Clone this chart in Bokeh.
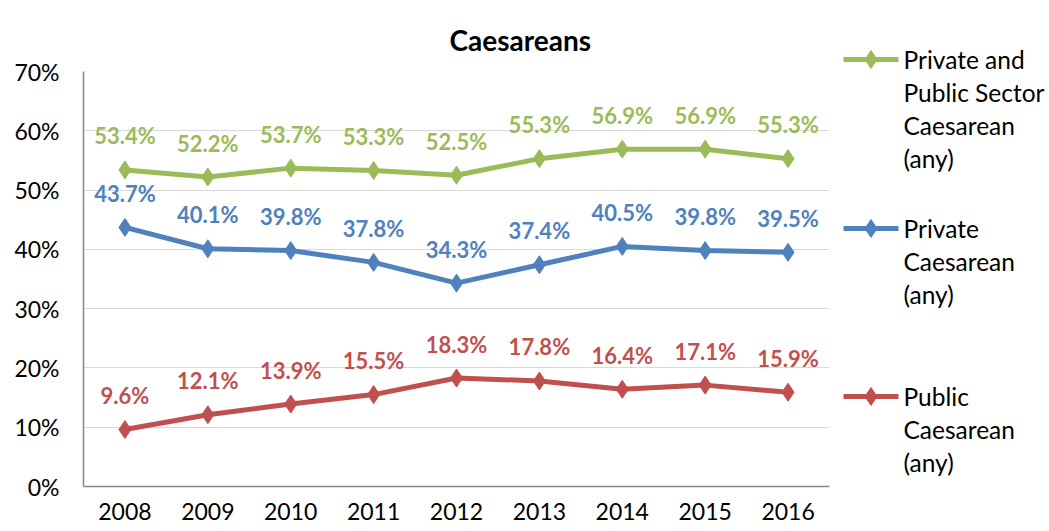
from bokeh.plotting import figure
from bokeh.models import Range1d, FixedTicker, NumeralTickFormatter
from bokeh.layouts import row
from bokeh.embed import file_html
from bokeh.resources import INLINE
from bokeh.core.properties import value

years = [2008, 2009, 2010, 2011, 2012, 2013, 2014, 2015, 2016]
both_sectors = [0.534, 0.522, 0.537, 0.533, 0.525, 0.553, 0.569, 0.569, 0.553]
private = [0.437, 0.401, 0.398, 0.378, 0.343, 0.374, 0.405, 0.398, 0.395]
public = [0.096, 0.121, 0.139, 0.155, 0.183, 0.178, 0.164, 0.171, 0.159]
series_names = ["Private and\nPublic Sector\nCaesarean\n(any)",
                "Private\nCaesarean\n(any)",
                "Public\nCaesarean\n(any)"]
y_ticks = [0, 0.1, 0.2, 0.3, 0.4, 0.5, 0.6, 0.7]
title_text = "Caesareans"

colors = ["#9BBB59", "#4F81BD", "#C0504D"]
FONT = "Lato"
H = 531

p = figure(width=838, height=H, output_backend="svg", toolbar_location=None,
           x_range=Range1d(2007.5, 2016.5), y_range=Range1d(0, 0.7),
           min_border_left=83, min_border_right=9, min_border_top=71,
           min_border_bottom=45, title=title_text)
p.title.align = "left"
p.title.offset = 366
p.title.text_font = FONT
p.title.text_font_size = "28px"
p.title.text_font_style = "bold"
p.title.text_color = "#000000"
try:
    p.title.standoff = 30
except Exception:
    pass
p.outline_line_color = None
p.background_fill_color = "white"

p.xgrid.grid_line_color = None
p.ygrid.grid_line_color = "#D9D9D9"
p.ygrid.grid_line_width = 1
p.ygrid.ticker = FixedTicker(ticks=y_ticks)

for ax in (p.xaxis, p.yaxis):
    ax.axis_line_color = "#868686"
    ax.axis_line_width = 1.5
    ax.major_tick_line_color = None
    ax.minor_tick_line_color = None
    ax.major_tick_in = 0
    ax.major_tick_out = 0
    ax.major_label_text_font = FONT
    ax.major_label_text_color = "#000000"

p.yaxis.ticker = FixedTicker(ticks=y_ticks)
p.yaxis.formatter = NumeralTickFormatter(format="0%")
p.yaxis.major_label_standoff = 24
p.yaxis.major_label_text_font_size = "23px"
p.xaxis.ticker = FixedTicker(ticks=years)
p.xaxis.major_label_standoff = 16
p.xaxis.major_label_text_font_size = "23px"

for vals, c in zip([both_sectors, private, public], colors):
    p.line(years, vals, line_color=c, line_width=5)
    p.scatter(years, vals, marker="diamond", size=18, fill_color=c, line_color=c)
    p.text(years, vals, text=[f"{v*100:.1f}%" for v in vals], text_color=c,
           text_font=value(FONT), text_font_size="22px", text_font_style="bold",
           text_align="center", text_baseline="middle", y_offset=-34)

# legend panel (coordinates equal page pixels)
LX0 = 838
lg = figure(width=1049 - LX0, height=H, output_backend="svg", toolbar_location=None,
            x_range=Range1d(LX0, 1049), y_range=Range1d(H, 0),
            min_border=0, min_border_left=0, min_border_right=0,
            min_border_top=0, min_border_bottom=0)
try:
    lg.frame_align = False
    p.frame_align = False
except Exception:
    pass
lg.axis.visible = False
lg.grid.visible = False
lg.outline_line_color = None
entry_y = [59, 228, 396]
for name, c, y0 in zip(series_names, colors, entry_y):
    lg.line([843, 898], [y0, y0], line_color=c, line_width=5)
    lg.scatter([870.5], [y0], marker="diamond", size=18, fill_color=c, line_color=c)
    lines = name.split("\n")
    lg.text([903] * len(lines), [y0 + 33 * i for i in range(len(lines))], text=lines,
            text_color="#000000", text_font=value(FONT), text_font_size="24.5px",
            text_align="left", text_baseline="middle")

layout = row(p, lg)
open("out.html", "w").write(file_html(layout, INLINE))
